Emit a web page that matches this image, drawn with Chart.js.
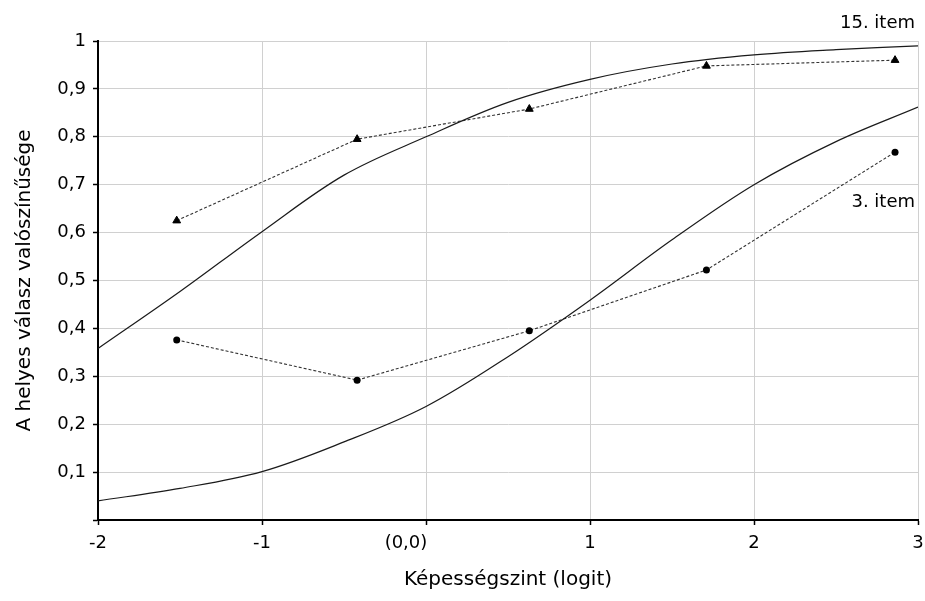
<!DOCTYPE html>
<html>
<head>
<meta charset="utf-8">
<script src="https://cdn.jsdelivr.net/npm/chart.js@4"></script>
<style>
  html, body { margin: 0; padding: 0; background: #fff; }
  #wrap { width: 925px; height: 601px; position: relative; }
</style>
</head>
<body>
<div id="wrap"><canvas id="chart"></canvas></div>
<script>
// observed proportions (dashed lines with markers)
const obsX = [-1.52, -0.42, 0.63, 1.71, 2.86];
const item15Obs = [0.625, 0.795, 0.858, 0.948, 0.960];
const item3Obs = [0.376, 0.292, 0.395, 0.522, 0.768];

// model curves (solid lines)
const curveX = [-2, -1.5, -1, -0.5, 0, 0.5, 1, 1.5, 2, 2.5, 3];
const item15Curve = [0.358, 0.477, 0.602, 0.72, 0.80, 0.872, 0.920, 0.952, 0.971, 0.982, 0.99];
const item3Curve = [0.040, 0.066, 0.101, 0.163, 0.237, 0.341, 0.459, 0.585, 0.700, 0.790, 0.862];

const xTicks = [-2, -1, 0, 1, 2, 3];
const itemLabels = [
  { text: "15. item", y: 1.027 },
  { text: "3. item", y: 0.653 }
];

const FONT = "'DejaVu Sans', Verdana, sans-serif";

function pts(xs, ys) {
  return xs.map((x, i) => ({ x, y: ys[i] }));
}

const labelPlugin = {
  id: "itemLabels",
  afterDatasetsDraw(chart) {
    const { ctx, chartArea, scales } = chart;
    ctx.save();
    ctx.font = "18px " + FONT;
    ctx.fillStyle = "#000";
    ctx.textAlign = "right";
    ctx.textBaseline = "alphabetic";
    itemLabels.forEach(l => {
      ctx.fillText(l.text, chartArea.right - 3, scales.y.getPixelForValue(l.y));
    });
    ctx.restore();
  }
};

new Chart(document.getElementById("chart"), {
  type: "scatter",
  data: {
    datasets: [
      {
        label: "15. item curve",
        data: pts(curveX, item15Curve),
        showLine: true,
        borderColor: "#1a1a1a",
        borderWidth: 1.2,
        pointRadius: 0,
        tension: 0.35
      },
      {
        label: "3. item curve",
        data: pts(curveX, item3Curve),
        showLine: true,
        borderColor: "#1a1a1a",
        borderWidth: 1.2,
        pointRadius: 0,
        tension: 0.35
      },
      {
        label: "15. item observed",
        data: pts(obsX, item15Obs),
        showLine: true,
        borderColor: "#333",
        borderWidth: 1.1,
        borderDash: [3, 2],
        pointStyle: "triangle",
        pointRadius: 4.5,
        pointBackgroundColor: "#000",
        pointBorderColor: "#000",
        pointBorderWidth: 1
      },
      {
        label: "3. item observed",
        data: pts(obsX, item3Obs),
        showLine: true,
        borderColor: "#333",
        borderWidth: 1.1,
        borderDash: [3, 2],
        pointStyle: "circle",
        pointRadius: 3.5,
        pointBackgroundColor: "#000",
        pointBorderColor: "#000",
        pointBorderWidth: 0
      }
    ]
  },
  options: {
    responsive: true,
    maintainAspectRatio: false,
    animation: false,
    layout: { padding: { top: 41, right: 0, bottom: 0, left: 0 } },
    plugins: {
      legend: { display: false },
      tooltip: { enabled: false }
    },
    scales: {
      x: {
        type: "linear",
        min: -2,
        max: 3,
        afterBuildTicks: (scale) => { scale.ticks = xTicks.map(v => ({ value: v })); },
        afterFit: (scale) => {
          scale.height = 81;
          scale.paddingLeft = 0;
          scale.paddingRight = 7;
        },
        ticks: {
          color: "#000",
          font: { family: FONT, size: 18 },
          padding: 8,
          maxRotation: 0,
          callback: v => v === 0 ? "(0,0)\u00a0\u00a0\u00a0\u00a0\u00a0\u00a0\u00a0" : String(v)
        },
        grid: { color: "#d0d0d0", lineWidth: 1, tickLength: 5, tickColor: "#000", tickWidth: 1.5 },
        border: { color: "#000", width: 2 },
        title: {
          display: true,
          text: "Képességszint (logit)",
          color: "#000",
          font: { family: FONT, size: 20 },
          padding: { top: 0, bottom: 9 }
        }
      },
      y: {
        min: 0,
        max: 1,
        afterFit: (scale) => { scale.width = 98; },
        ticks: {
          stepSize: 0.1,
          color: "#000",
          font: { family: FONT, size: 18 },
          padding: 7,
          callback: v => {
            const r = Math.round(v * 10) / 10;
            if (r === 0) return "";
            if (r === 1) return "1";
            return r.toFixed(1).replace(".", ",");
          }
        },
        grid: { color: "#d0d0d0", lineWidth: 1, tickLength: 5, tickColor: "#000", tickWidth: 1.5 },
        border: { color: "#000", width: 2 },
        title: {
          display: true,
          text: "A helyes válasz valószínűsége",
          color: "#000",
          font: { family: FONT, size: 20 },
          padding: { top: 13, bottom: 0 }
        }
      }
    }
  },
  plugins: [labelPlugin]
});
</script>
</body>
</html>
